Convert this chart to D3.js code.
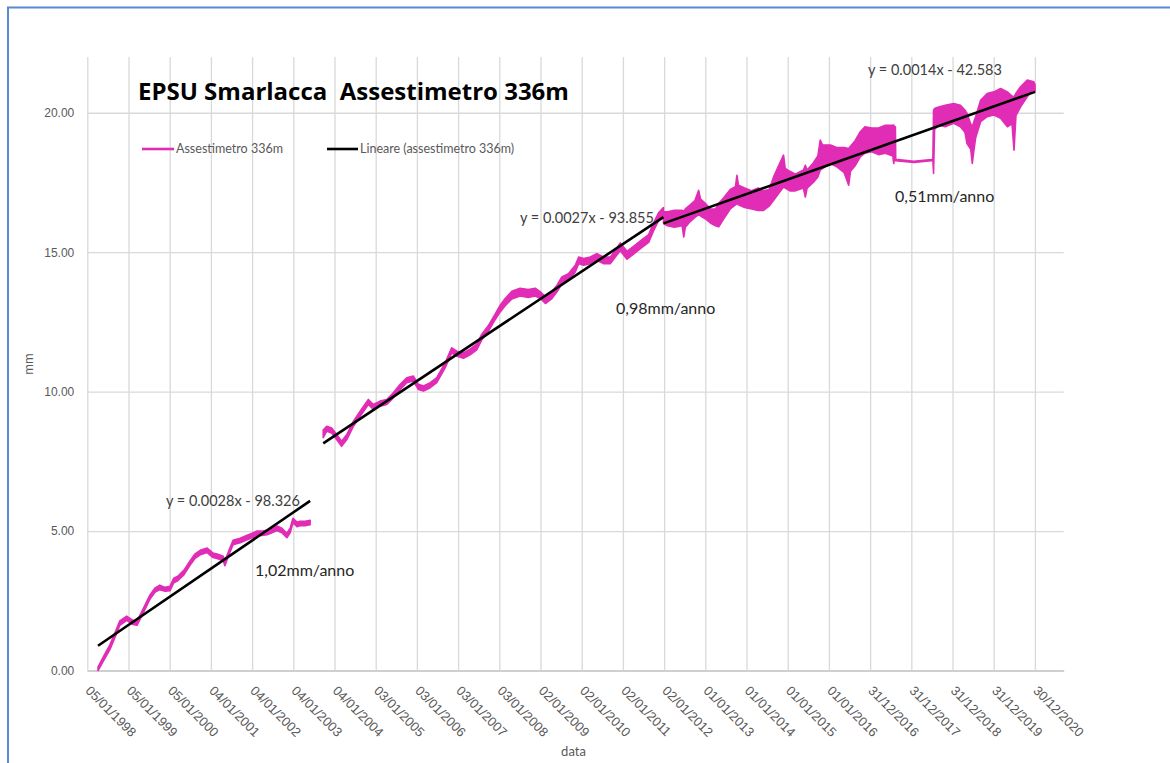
<!DOCTYPE html>
<html>
<head>
<meta charset="utf-8">
<script src="https://cdn.jsdelivr.net/npm/d3@7"></script>
<style>
  html, body { margin: 0; padding: 0; background: #ffffff; }
  svg { display: block; font-family: Lato, "Open Sans", sans-serif; }
</style>
</head>
<body>
<svg id="chart" width="1170" height="763"></svg>
<script>
// ---- data -------------------------------------------------------------
// x axis tick labels (one every 365 days, Excel date serials)
const tickLabels = [
  "05/01/1998","05/01/1999","05/01/2000","04/01/2001","04/01/2002","04/01/2003",
  "04/01/2004","03/01/2005","03/01/2006","03/01/2007","03/01/2008","02/01/2009",
  "02/01/2010","02/01/2011","02/01/2012","01/01/2013","01/01/2014","01/01/2015",
  "01/01/2016","31/12/2016","31/12/2017","31/12/2018","31/12/2019","30/12/2020"
];
const axisMaxSerial = 44450;
const yTicks = [0, 5, 10, 15, 20];
const yMax = 22;

// settlement readings: [date, daily low (mm), daily high (mm)]
const series1998 = [
  ["1998-04-10",0.00,0.12],["1998-05-22",0.30,0.45],["1998-07-24",0.75,0.92],
  ["1998-09-17",1.28,1.45],["1998-10-20",1.62,1.78],["1998-12-20",1.80,1.95],
  ["1999-02-14",1.65,1.80],["1999-03-21",1.62,1.76],["1999-04-16",1.82,1.98],
  ["1999-05-30",2.18,2.34],["1999-07-13",2.55,2.70],["1999-08-26",2.80,2.95],
  ["1999-10-09",2.90,3.06],["1999-11-26",2.84,2.98],["2000-01-08",2.86,3.02],
  ["2000-02-10",3.15,3.31],["2000-03-17",3.22,3.38],["2000-05-11",3.44,3.60],
  ["2000-07-01",3.76,3.92],["2000-08-14",4.01,4.17],["2000-10-01",4.15,4.31],
  ["2000-12-02",4.23,4.39],["2001-01-23",4.05,4.21],["2001-03-07",4.01,4.17],
  ["2001-04-23",3.94,4.10],["2001-05-08",3.76,3.92],["2001-06-13",4.15,4.31],
  ["2001-07-19",4.51,4.67],["2001-09-20",4.58,4.74],["2001-11-21",4.69,4.85],
  ["2002-01-04",4.76,4.92],["2002-02-17",4.84,5.00],["2002-04-02",4.84,5.00],
  ["2002-05-16",4.87,5.03],["2002-06-29",4.94,5.10],["2002-08-12",5.02,5.18],
  ["2002-09-25",4.94,5.10],["2002-11-08",4.76,4.92],["2002-12-07",4.94,5.10],
  ["2003-01-01",5.30,5.46],["2003-02-06",5.16,5.32],["2003-03-04",5.19,5.35],
  ["2003-04-19",5.19,5.35],["2003-06-02",5.23,5.39]
];
const series2003 = [
  ["2003-09-26",8.35,8.62],["2003-10-27",8.58,8.76],["2003-12-10",8.52,8.70],
  ["2004-01-23",8.28,8.46],["2004-03-07",8.04,8.22],["2004-04-22",8.28,8.46],
  ["2004-06-20",8.76,8.94],["2004-08-18",9.12,9.30],["2004-10-30",9.54,9.72],
  ["2004-12-13",9.36,9.54],["2005-02-10",9.48,9.66],["2005-04-11",9.54,9.72],
  ["2005-05-26",9.72,9.90],["2005-08-08",10.08,10.26],["2005-10-05",10.32,10.50],
  ["2005-12-02",10.38,10.56],["2006-01-16",10.08,10.26],["2006-03-03",10.02,10.20],
  ["2006-05-01",10.14,10.32],["2006-06-28",10.32,10.50],["2006-09-10",10.85,11.03],
  ["2006-11-07",11.39,11.57],["2006-12-24",11.27,11.45],["2007-02-20",11.20,11.40],
  ["2007-04-19",11.32,11.52],["2007-06-17",11.50,11.70],["2007-08-01",11.86,12.06],
  ["2007-09-27",12.16,12.36],["2007-11-27",12.58,12.78],["2008-01-11",12.86,13.10],
  ["2008-02-24",13.08,13.34],["2008-04-23",13.32,13.60],["2008-07-05",13.43,13.71],
  ["2008-09-16",13.38,13.66],["2008-11-16",13.43,13.71],["2009-01-01",13.34,13.58],
  ["2009-02-14",13.16,13.40],["2009-04-13",13.34,13.58],["2009-05-28",13.58,13.82],
  ["2009-07-10",13.87,14.11],["2009-09-06",13.99,14.23],["2009-11-06",14.29,14.53],
  ["2009-12-06",14.59,14.83],["2010-01-19",14.53,14.77],["2010-03-19",14.59,14.83],
  ["2010-05-16",14.71,14.95],["2010-07-13",14.59,14.83],["2010-09-13",14.59,14.83],
  ["2010-10-27",14.83,15.07],["2010-12-10",15.05,15.33],["2011-02-07",14.75,15.03],
  ["2011-04-06",14.93,15.21],["2011-06-20",15.17,15.45],["2011-08-18",15.35,15.63],
  ["2011-10-01",15.77,16.05],["2011-11-14",16.13,16.41],["2011-12-27",16.30,16.60]
];
const series2012 = [
  ["2011-12-28",16.03,16.45],["2012-02-01",15.95,16.45],["2012-04-01",15.90,16.50],
  ["2012-06-10",15.95,16.50],["2012-06-24",15.55,16.45],["2012-07-08",15.90,16.55],
  ["2012-08-20",16.10,16.70],["2012-10-01",16.25,16.85],["2012-11-03",16.35,17.22],
  ["2012-11-20",16.30,16.90],["2013-01-01",16.20,16.75],["2013-02-15",16.05,16.55],
  ["2013-04-01",15.95,16.55],["2013-04-30",15.91,16.75],["2013-06-13",16.20,16.95],
  ["2013-08-10",16.55,17.25],["2013-09-25",16.70,17.35],["2013-10-08",16.75,17.76],
  ["2013-10-22",16.70,17.40],["2013-12-15",16.60,17.30],["2014-02-15",16.55,17.20],
  ["2014-04-15",16.50,17.30],["2014-06-01",16.50,17.20],["2014-07-20",16.65,17.25],
  ["2014-08-29",16.86,17.70],["2014-10-12",17.10,18.10],["2014-11-25",17.34,18.48],
  ["2014-12-10",17.30,18.00],["2015-01-20",17.20,17.90],["2015-03-10",17.20,17.80],
  ["2015-05-20",17.30,17.95],["2015-06-06",16.98,18.12],["2015-06-22",17.30,17.95],
  ["2015-08-15",17.50,18.20],["2015-09-25",17.70,18.45],["2015-10-16",17.94,19.02],
  ["2015-11-05",18.00,18.85],["2016-01-15",18.18,18.84],["2016-03-15",18.05,18.75],
  ["2016-05-15",17.85,18.75],["2016-06-24",17.40,18.72],["2016-07-10",17.90,18.80],
  ["2016-08-20",18.10,19.00],["2016-10-05",18.42,19.32],["2016-11-15",18.55,19.50],
  ["2017-01-15",18.60,19.45],["2017-03-15",18.50,19.45],["2017-05-15",18.55,19.55],
  ["2017-07-20",18.45,19.55],["2017-07-28",18.18,19.56],["2017-08-05",18.40,19.50],
  ["2017-08-12",18.28,19.50],["2017-08-15",18.28,18.33],["2018-01-22",18.22,18.26],
  ["2018-06-27",18.28,18.32],["2018-07-10",18.30,18.34],["2018-07-16",17.82,20.09],
  ["2018-07-25",19.40,20.15],["2018-08-30",19.56,20.21],["2018-10-27",19.50,20.27],
  ["2019-01-11",19.62,20.33],["2019-03-11",19.50,20.27],["2019-04-20",19.30,20.10],
  ["2019-05-08",18.90,19.98],["2019-06-10",18.70,19.60],["2019-06-24",18.18,19.50],
  ["2019-07-10",18.70,19.70],["2019-07-24",19.10,19.86],["2019-09-06",19.68,20.45],
  ["2019-11-03",19.86,20.69],["2020-01-01",19.92,20.75],["2020-03-01",19.80,20.87],
  ["2020-04-30",19.50,20.75],["2020-06-10",19.60,20.60],["2020-06-28",18.66,20.57],
  ["2020-07-15",19.90,20.70],["2020-08-25",20.21,20.93],["2020-10-23",20.57,21.17],
  ["2020-12-20",20.87,21.11],["2020-12-31",20.75,21.00]
];
const segments = [series1998, series2003, series2012];

// linear trend per segment: y = slope * x + intercept (x = Excel date serial)
const trendSlope = [0.002764, 0.002692, 0.001433];
const trendIntercept = [-98.326, -93.855, -42.583];
const rateLabels = ["1,02mm/anno", "0,98mm/anno", "0,51mm/anno"];

const titleText = "EPSU Smarlacca  Assestimetro 336m";
const legendLabels = ["Assestimetro 336m", "Lineare (assestimetro 336m)"];

// ---- helpers ----------------------------------------------------------
const EXCEL_EPOCH = Date.UTC(1899, 11, 30);
const toSerial = ms => Math.round((ms - EXCEL_EPOCH) / 864e5);
const isoSerial = s => { const [y, m, d] = s.split("-").map(Number); return toSerial(Date.UTC(y, m - 1, d)); };
const dmySerial = s => { const [d, m, y] = s.split("/").map(Number); return toSerial(Date.UTC(y, m - 1, d)); };

// ---- layout -----------------------------------------------------------
const plot = { left: 87.3, right: 1063.7, top: 57, bottom: 670.5 };
const MAGENTA = "#e12db5";
const GRID = "#d9d9d9";
const LABEL = "#595959";

const svg = d3.select("#chart");
svg.append("rect").attr("width", 1170).attr("height", 763).attr("fill", "#ffffff");
// outer frame
svg.append("rect").attr("x", 8).attr("y", 7.5).attr("width", 1200).attr("height", 800)
  .attr("fill", "none").attr("stroke", "#5a89cf").attr("stroke-width", 2);

const tickSerials = tickLabels.map(dmySerial);
const x = d3.scaleLinear().domain([tickSerials[0], axisMaxSerial]).range([plot.left, plot.right]);
const y = d3.scaleLinear().domain([0, yMax]).range([plot.bottom, plot.top]);

// horizontal gridlines + y labels
const yAxis = svg.append("g")
  .attr("transform", `translate(${plot.left},0)`)
  .call(d3.axisLeft(y).tickValues(yTicks).tickFormat(d3.format(".2f"))
    .tickSize(-(plot.right - plot.left)).tickPadding(13));
yAxis.select(".domain").remove();
yAxis.selectAll("line").attr("stroke", GRID).attr("stroke-width", 1.3);
yAxis.selectAll("text").attr("fill", LABEL).style("font-size", "12px");

// vertical gridlines + rotated date labels
const xAxis = svg.append("g")
  .attr("transform", `translate(0,${plot.bottom})`)
  .call(d3.axisBottom(x).tickValues(tickSerials).tickFormat((d, i) => tickLabels[i])
    .tickSize(-(plot.bottom - plot.top)).tickSizeOuter(0));
xAxis.select(".domain").attr("stroke", "#c8c8c8").attr("stroke-width", 1.6);
xAxis.selectAll(".tick line").attr("stroke", GRID).attr("stroke-width", 1.3);
xAxis.selectAll(".tick text")
  .attr("x", 0).attr("y", 0).attr("dy", 0)
  .attr("transform", "translate(-3,21) rotate(45)")
  .style("text-anchor", "start").style("font-size", "13px")
  .attr("fill", LABEL);

// axis titles
svg.append("text").attr("transform", "translate(33,364) rotate(-90)")
  .attr("text-anchor", "middle").attr("fill", LABEL).style("font-size", "13px").text("mm");
svg.append("text").attr("x", (plot.left + plot.right) / 2 - 2).attr("y", 756)
  .attr("text-anchor", "middle").attr("fill", LABEL).style("font-size", "13px").text("data");

// measured series: band between daily low and high
const band = d3.area()
  .x(d => x(isoSerial(d[0])))
  .y0(d => y(d[1]))
  .y1(d => y(d[2]));
svg.append("g").selectAll("path").data(segments).join("path")
  .attr("d", band)
  .attr("fill", MAGENTA).attr("stroke", MAGENTA)
  .attr("stroke-width", 1.6).attr("stroke-linejoin", "round");

// trend lines spanning each segment
const trendLine = d3.line().x(d => x(d[0])).y(d => y(d[1]));
segments.forEach((seg, i) => {
  const s0 = isoSerial(seg[0][0]);
  const s1 = isoSerial(seg[seg.length - 1][0]);
  const pts = [s0, s1].map(s => [s, trendSlope[i] * s + trendIntercept[i]]);
  svg.append("path").attr("d", trendLine(pts))
    .attr("fill", "none").attr("stroke", "#000").attr("stroke-width", 2.6);
});

// trend equations and yearly rates
const eqPos = [[166, 506], [520, 223], [868, 75]];
const ratePos = [[255, 576], [616, 314], [895, 202]];
trendSlope.forEach((s, i) => {
  svg.append("text").attr("x", eqPos[i][0]).attr("y", eqPos[i][1])
    .attr("fill", "#404040").style("font-size", "14.5px")
    .text(`y = ${s.toFixed(4)}x - ${(-trendIntercept[i]).toFixed(3)}`);
  svg.append("text").attr("x", ratePos[i][0]).attr("y", ratePos[i][1])
    .attr("fill", "#262626").style("font-size", "16px")
    .text(rateLabels[i]);
});

// title
svg.append("text").attr("x", 138).attr("y", 100)
  .attr("fill", "#000").style("font-family", "'Open Sans', Lato, sans-serif")
  .style("font-size", "24px").style("font-weight", "bold")
  .style("white-space", "pre").text(titleText);

// legend
const legend = svg.append("g").attr("transform", "translate(0,149)");
[[MAGENTA, 142, 174], ["#000", 327, 358]].forEach(([c, a, b], i) => {
  legend.append("line").attr("x1", a).attr("x2", b).attr("y1", 0).attr("y2", 0)
    .attr("stroke", c).attr("stroke-width", 2.6);
  legend.append("text").attr("x", b + 2).attr("y", 4)
    .attr("fill", LABEL).style("font-size", "12.5px").text(legendLabels[i]);
});
</script>
</body>
</html>
